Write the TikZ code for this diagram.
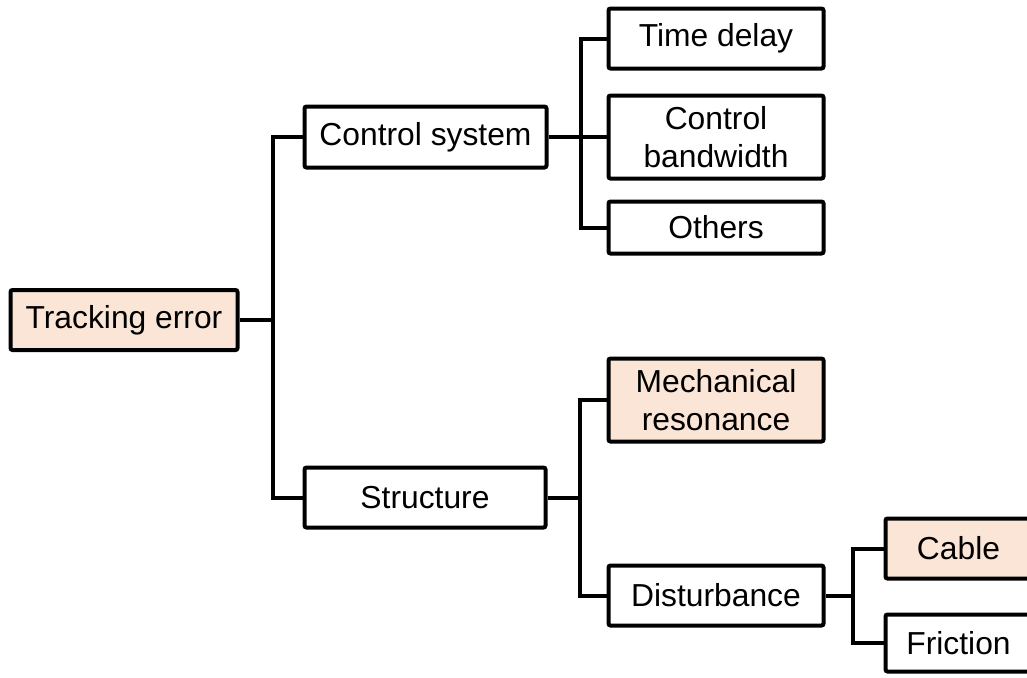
\documentclass[tikz,border=0pt]{standalone}
\usepackage{fontspec}
\setmainfont{Liberation Sans}
\definecolor{peach}{HTML}{FBE5D6}

\tikzset{
  cause/.style={draw=black,line width=2pt,rounded corners=1pt,inner sep=0pt,align=center,fill=white,font=\fontsize{15.9}{19}\selectfont},
  hot/.style={cause,fill=peach},
  link/.style={line width=2pt,line join=miter}
}

\begin{document}
\begin{tikzpicture}[x=0.5pt,y=-0.5pt]
\useasboundingbox (0,0) rectangle (1027,677);
\node[hot,minimum width=113.5pt,minimum height=30pt] (track) at (124,320) {Tracking error};
\node[cause,minimum width=121pt,minimum height=30.5pt] (ctrl) at (425.5,137) {Control system};
\node[cause,minimum width=120.5pt,minimum height=30pt] (struct) at (425,497.5) {Structure};
\node[cause,minimum width=107.5pt,minimum height=30pt] (tdelay) at (716,38.5) {Time delay};
\node[cause,minimum width=107.5pt,minimum height=41.5pt] (bandw) at (716,137) {Control\\bandwidth};
\node[cause,minimum width=107.5pt,minimum height=26pt] (others) at (716,227.5) {Others};
\node[hot,minimum width=107.5pt,minimum height=41.5pt] (mech) at (716,400) {Mechanical\\resonance};
\node[cause,minimum width=107.5pt,minimum height=30pt] (dist) at (716,595.5) {Disturbance};
\node[hot,minimum width=73pt,minimum height=30pt] (cable) at (958.5,548.5) {Cable};
\node[cause,minimum width=73pt,minimum height=28.5pt] (fric) at (958.5,643) {Friction};
\coordinate (j1) at (273,320);
\coordinate (j2) at (581,137);
\coordinate (j3) at (580,497.5);
\coordinate (j4) at (853,595.5);
\draw[link] (track.east) -- (j1);
\draw[link] (ctrl.west) -| (j1) |- (struct.west);
\draw[link] (ctrl.east) -- (j2);
\draw[link] (tdelay.west) -| (j2) |- (others.west);
\draw[link] (j2) -- (bandw.west);
\draw[link] (struct.east) -- (j3);
\draw[link] (mech.west) -| (j3) |- (dist.west);
\draw[link] (dist.east) -- (j4);
\draw[link] (cable.west) -| (j4) |- (fric.west);
\end{tikzpicture}
\end{document}
